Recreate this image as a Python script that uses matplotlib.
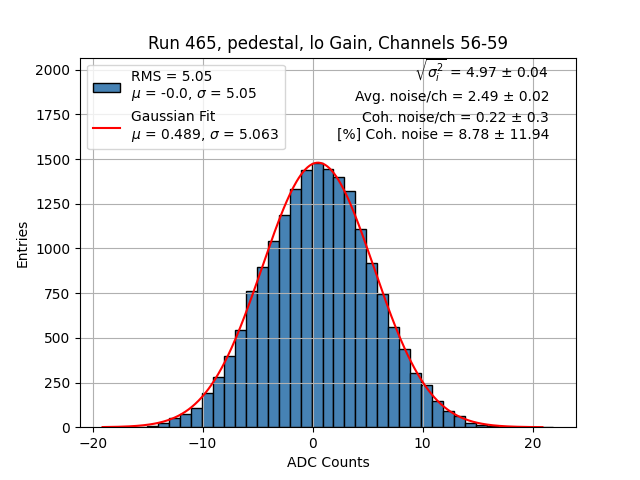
import matplotlib
matplotlib.use("Agg")
import matplotlib.pyplot as plt
import numpy as np

# histogram: bin width 1 ADC count, left edges start at -19.1
bin_start = -19.1
bin_width = 1.0
counts = [1, 1, 2, 3, 6, 22, 54, 75, 108,
          193, 282, 400, 546, 761, 899, 1040, 1186, 1331, 1440,
          1477, 1444, 1399, 1320, 1107, 916, 748, 561, 440, 305,
          237, 144, 88, 64, 22, 15, 6, 3, 2, 1, 1, 1]

fit_amp = 1480
fit_mu = 0.489
fit_sigma = 5.063

info_lines = [r"$\sqrt{\sigma_i^2}$ = 4.97 ± 0.04",
              "Avg. noise/ch = 2.49 ± 0.02",
              "Coh. noise/ch = 0.22 ± 0.3",
              "[%] Coh. noise = 8.78 ± 11.94"]
info_y = [0.944, 0.883, 0.827, 0.780]

edges = bin_start + bin_width * np.arange(len(counts) + 1)

fig, ax = plt.subplots(figsize=(6.4, 4.8), dpi=100)
bars = ax.bar(edges[:-1], counts, width=bin_width, align="edge", color="steelblue",
              edgecolor="black", label="RMS = 5.05\n$\\mu$ = -0.0, $\\sigma$ = 5.05")

xf = np.linspace(edges[0], edges[-1] - 1, 400)
yf = fit_amp * np.exp(-0.5 * ((xf - fit_mu) / fit_sigma) ** 2)
line, = ax.plot(xf, yf, color="red",
                label="Gaussian Fit\n$\\mu$ = 0.489, $\\sigma$ = 5.063")

ax.set_ylim(0, 1.4 * max(counts))
ax.grid(True)
ax.legend(handles=[bars, line], loc="upper left")
for txt, y in zip(info_lines, info_y):
    ax.text(0.946, y, txt, transform=ax.transAxes, ha="right", va="baseline")

ax.set_title("Run 465, pedestal, lo Gain, Channels 56-59")
ax.set_xlabel("ADC Counts")
ax.set_ylabel("Entries")

fig.savefig("out.png")
